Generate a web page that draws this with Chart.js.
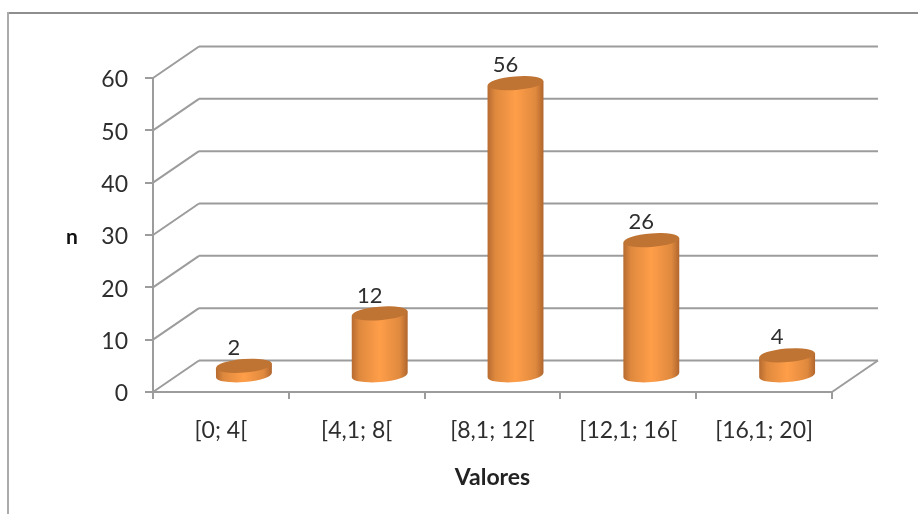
<!DOCTYPE html>
<html>
<head>
<meta charset="utf-8">
<style>
    html, body { margin: 0; padding: 0; background: #fff; }
    #wrap { width: 918px; height: 514px; }
</style>
<script src="https://cdn.jsdelivr.net/npm/chart.js@4/dist/chart.umd.js"></script>
</head>
<body>
<div id="wrap"><canvas id="histChart" width="918" height="514"></canvas></div>
<script>
// 도수 분포
const categories = ['[0; 4[', '[4,1; 8[', '[8,1; 12[', '[12,1; 16[', '[16,1; 20]'];
const counts = [2, 12, 56, 26, 4];
const yTicks = [0, 10, 20, 30, 40, 50, 60];

const FONT = 'Lato, Carlito, sans-serif';
const GRID = '#9c9c9c';
const TEXT = '#2e2e2e';

// 뒷벽까지의 깊이, 막대는 그 중간에 선다
const DEPTH_X = 46;
const DEPTH_Y = -31.5;

function line(ctx, x1, y1, x2, y2) {
    ctx.beginPath();
    ctx.moveTo(x1, y1);
    ctx.lineTo(x2, y2);
    ctx.stroke();
}

// 바깥 테두리, 벽과 바닥
const wallPlugin = {
    id: 'wall',
    beforeDatasetsDraw(chart) {
        const { ctx, chartArea, scales } = chart;
        ctx.save();
        ctx.lineWidth = 2;
        ctx.strokeStyle = '#8e8e8e';
        line(ctx, 8, 13, 918, 13);
        ctx.strokeStyle = '#ababab';
        line(ctx, 8, 12, 8, 514);

        ctx.strokeStyle = GRID;
        yTicks.forEach(v => {
            const y = scales.y.getPixelForValue(v);
            line(ctx, chartArea.left, y, chartArea.left + DEPTH_X, y + DEPTH_Y);
            line(ctx, chartArea.left + DEPTH_X, y + DEPTH_Y, chartArea.right + DEPTH_X, y + DEPTH_Y);
        });
        const y0 = scales.y.getPixelForValue(0);
        line(ctx, chartArea.right, y0, chartArea.right + DEPTH_X, y0 + DEPTH_Y);
        ctx.restore();
    }
};

// 막대를 원기둥으로 그림
function drawCylinder(ctx, bar) {
    const rx = bar.width / 2;
    const ry = 6.8;
    const tilt = -0.08;
    const cx = bar.x + DEPTH_X / 2;
    const top = bar.y + DEPTH_Y / 2;
    const bottom = bar.base + DEPTH_Y / 2;
    const lift = Math.sin(tilt) * rx;

    const body = ctx.createLinearGradient(cx - rx, 0, cx + rx, 0);
    body.addColorStop(0, '#b66b30');
    body.addColorStop(0.14, '#df893e');
    body.addColorStop(0.5, '#ff9e49');
    body.addColorStop(0.86, '#df893e');
    body.addColorStop(1, '#b1662e');

    ctx.fillStyle = body;
    ctx.beginPath();
    ctx.moveTo(cx - rx, top - lift);
    ctx.lineTo(cx + rx, top + lift);
    ctx.lineTo(cx + rx, bottom + lift);
    ctx.ellipse(cx, bottom, rx, ry, tilt, 0, Math.PI);
    ctx.closePath();
    ctx.fill();

    ctx.fillStyle = '#c07434';
    ctx.beginPath();
    ctx.ellipse(cx, top, rx, ry, tilt, 0, Math.PI * 2);
    ctx.fill();
}

const cylinderPlugin = {
    id: 'cylinder',
    beforeDatasetDraw(chart, args) {
        args.meta.data.forEach(bar => drawCylinder(chart.ctx, bar));
        return false;
    },
    afterDatasetsDraw(chart) {
        const { ctx, chartArea } = chart;
        ctx.save();
        ctx.fillStyle = TEXT;
        ctx.textAlign = 'center';
        ctx.textBaseline = 'middle';
        ctx.font = '22px ' + FONT;
        chart.getDatasetMeta(0).data.forEach((bar, i) => {
            ctx.fillText(counts[i], bar.x + 13, bar.y + DEPTH_Y / 2 - 18);
        });
        // 세로축 제목은 눕히지 않는다
        ctx.fillStyle = '#111';
        ctx.font = 'bold 21px ' + FONT;
        ctx.fillText('n', 72, (chartArea.top + chartArea.bottom) / 2 + 2);
        ctx.restore();
    }
};

const histChart = new Chart(document.getElementById('histChart'), {
    type: 'bar',
    data: {
        labels: categories,
        datasets: [{
            label: 'n',
            data: counts,
            backgroundColor: '#ff9e49',
            categoryPercentage: 1,
            barPercentage: 0.412
        }]
    },
    options: {
        responsive: false,
        animation: false,
        layout: { padding: { top: 78, right: 86 } },
        plugins: {
            legend: { display: false },
            tooltip: { enabled: false }
        },
        scales: {
            x: {
                afterFit: scale => { scale.height = 122; },
                border: { color: GRID, width: 2 },
                grid: { color: GRID, lineWidth: 2, drawOnChartArea: false, tickLength: 7 },
                ticks: { color: TEXT, padding: 18, font: { family: FONT, size: 23 }, maxRotation: 0 },
                title: {
                    display: true,
                    text: 'Valores',
                    color: '#222',
                    padding: { top: 17, bottom: 23 },
                    font: { family: FONT, size: 23, weight: 'bold' }
                }
            },
            y: {
                min: 0,
                max: 60,
                afterFit: scale => { scale.width = 153; },
                border: { color: GRID, width: 2 },
                grid: { color: GRID, lineWidth: 2, drawOnChartArea: false, tickLength: 8 },
                ticks: {
                    color: TEXT,
                    padding: 17,
                    labelOffset: 2,
                    stepSize: 10,
                    font: { family: FONT, size: 23 }
                }
            }
        }
    },
    plugins: [wallPlugin, cylinderPlugin]
});
</script>
</body>
</html>
